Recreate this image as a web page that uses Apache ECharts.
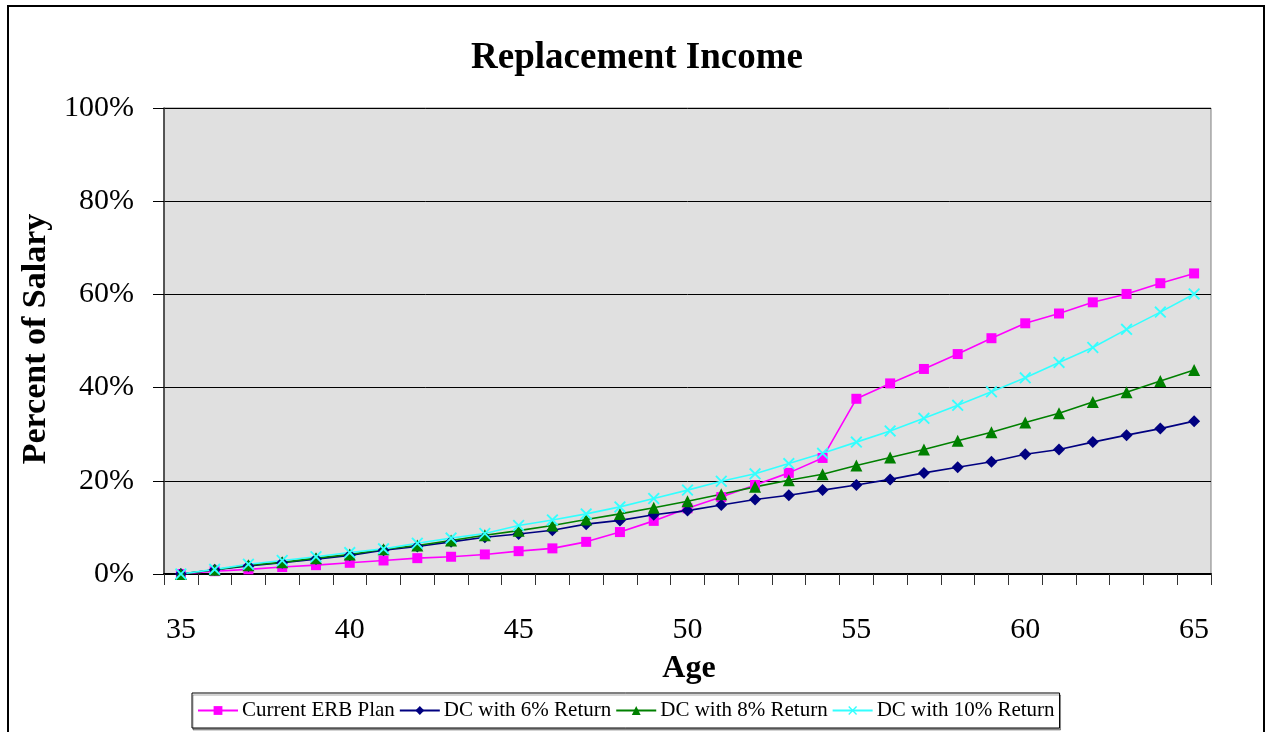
<!DOCTYPE html>
<html>
<head>
<meta charset="utf-8">
<script src="https://cdn.jsdelivr.net/npm/echarts@6/dist/echarts.min.js"></script>
<style>
  html, body { margin: 0; padding: 0; background: #ffffff; }
  #chart { width: 1265px; height: 732px; }
</style>
</head>
<body>
<div id="chart"></div>
<script>
// Ages along the horizontal axis
const ages = ['35','36','37','38','39','40','41','42','43','44','45','46','47','48','49','50',
              '51','52','53','54','55','56','57','58','59','60','61','62','63','64','65'];

// Replacement income as percent of salary
const currentErb = [0, 0.6, 1.0, 1.5, 1.9, 2.4, 2.9, 3.4, 3.7, 4.2, 4.9, 5.5, 6.9, 9.0, 11.4, 14.1,
                    16.5, 19.1, 21.7, 24.9, 37.6, 40.9, 44.0, 47.2, 50.6, 53.8, 55.9, 58.3, 60.1, 62.4, 64.5];
const dc6 = [0, 0.9, 1.7, 2.4, 3.2, 4.0, 5.1, 5.9, 6.9, 7.9, 8.6, 9.4, 10.7, 11.5, 12.7, 13.6,
             14.8, 16.0, 16.9, 18.0, 19.1, 20.3, 21.7, 22.9, 24.1, 25.7, 26.7, 28.3, 29.8, 31.2, 32.8];
const dc8 = [0, 0.9, 1.9, 2.5, 3.4, 4.2, 5.3, 6.1, 7.2, 8.3, 9.3, 10.4, 11.7, 12.9, 14.2, 15.6,
             17.1, 18.7, 20.1, 21.4, 23.3, 25.0, 26.7, 28.6, 30.4, 32.5, 34.5, 36.9, 39.0, 41.4, 43.8];
const dc10 = [0, 1.0, 2.1, 2.9, 3.7, 4.6, 5.4, 6.6, 7.7, 8.7, 10.4, 11.6, 12.9, 14.4, 16.2, 18.0,
              19.9, 21.5, 23.7, 25.9, 28.3, 30.7, 33.4, 36.2, 39.1, 42.1, 45.4, 48.6, 52.5, 56.2, 60.1];

const seriesNames = ['Current ERB Plan', 'DC with 6% Return', 'DC with 8% Return', 'DC with 10% Return'];

const FONT = '"Liberation Serif", "Times New Roman", serif';
const CROSS = 'path://M0,1.1 L1.1,0 L5,3.9 L8.9,0 L10,1.1 L6.1,5 L10,8.9 L8.9,10 L5,6.1 L1.1,10 L0,8.9 L3.9,5 Z';

function lineSeries(name, data, color, symbol, size) {
  return {
    name: name,
    type: 'line',
    data: data,
    symbol: symbol,
    symbolSize: size,
    showAllSymbol: true,
    lineStyle: { color: color, width: 1.6 },
    itemStyle: { color: color },
    emphasis: { disabled: true },
    animation: false
  };
}

const chart = echarts.init(document.getElementById('chart'), null, { renderer: 'canvas' });
chart.setOption({
  backgroundColor: '#ffffff',
  animation: false,
  title: {
    text: 'Replacement Income',
    left: 632,
    top: 35,
    textAlign: 'center',
    textStyle: { fontFamily: FONT, fontWeight: 'bold', fontSize: 37, color: '#000' }
  },
  grid: {
    left: 164, right: 54, top: 108, bottom: 158,
    show: true,
    backgroundColor: '#e0e0e0',
    borderColor: '#808080',
    borderWidth: 1
  },
  legend: {
    data: seriesNames,
    left: 192,
    top: 693,
    orient: 'horizontal',
    itemWidth: 40,
    itemHeight: 11,
    itemGap: 4,
    padding: [7, 5, 7, 5],
    borderColor: '#000',
    borderWidth: 1,
    backgroundColor: '#fff',
    shadowColor: 'rgba(0,0,0,0.35)',
    shadowOffsetX: 1,
    shadowOffsetY: 2,
    textStyle: { fontFamily: FONT, fontSize: 21, color: '#000', padding: [0, 0, 0, -1] }
  },
  xAxis: {
    type: 'category',
    data: ages,
    boundaryGap: true,
    axisLine: { lineStyle: { color: '#000', width: 2 } },
    axisTick: { show: true, interval: 0, length: 11, lineStyle: { color: '#333', width: 1 } },
    axisLabel: { interval: 4, margin: 41, fontFamily: FONT, fontSize: 30, color: '#000' },
    splitLine: { show: false }
  },
  yAxis: {
    type: 'value',
    min: 0,
    max: 100,
    interval: 20,
    axisLine: { show: true, lineStyle: { color: '#333', width: 1.5 } },
    axisTick: { show: true, length: 11, lineStyle: { color: '#000', width: 1 } },
    axisLabel: { formatter: '{value}%', margin: 30, fontFamily: FONT, fontSize: 30, color: '#000' },
    splitLine: { show: true, lineStyle: { color: '#000', width: 1 } }
  },
  graphic: [
    {
      type: 'rect',
      shape: { x: 8, y: 6, width: 1256, height: 740 },
      style: { fill: 'none', stroke: '#000', lineWidth: 2 },
      silent: true, z: -1
    },
    {
      type: 'text',
      x: 689, y: 669,
      style: { text: 'Age', fontFamily: FONT, fontWeight: 'bold', fontSize: 32, fill: '#000',
               textAlign: 'center', textVerticalAlign: 'middle' }
    },
    {
      type: 'text',
      x: 36, y: 339,
      rotation: Math.PI / 2,
      style: { text: 'Percent of Salary', fontFamily: FONT, fontWeight: 'bold', fontSize: 34, fill: '#000',
               textAlign: 'center', textVerticalAlign: 'middle' }
    }
  ],
  series: [
    lineSeries(seriesNames[0], currentErb, '#ff00ff', 'rect', 10),
    lineSeries(seriesNames[1], dc6, '#000080', 'diamond', 12),
    lineSeries(seriesNames[2], dc8, '#008000', 'triangle', 12),
    lineSeries(seriesNames[3], dc10, '#33ffff', CROSS, 12)
  ]
});
</script>
</body>
</html>
